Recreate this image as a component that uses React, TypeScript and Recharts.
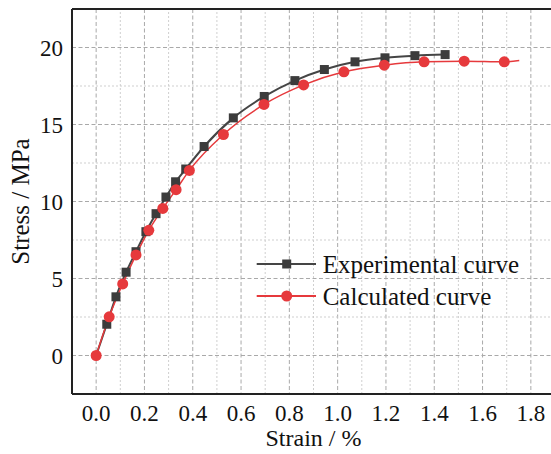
import { CartesianGrid, Legend, Line, LineChart, ReferenceLine, XAxis, YAxis } from 'recharts'

const expStrain = [0, 0.044, 0.082, 0.124, 0.165, 0.206, 0.248, 0.289, 0.329, 0.371, 0.447, 0.568, 0.696, 0.823, 0.945, 1.072, 1.196, 1.32, 1.445]
const expStress = [0, 2.03, 3.81, 5.41, 6.74, 8.04, 9.21, 10.29, 11.28, 12.11, 13.57, 15.43, 16.82, 17.85, 18.57, 19.07, 19.33, 19.47, 19.54]
const calcStrain = [0, 0.054, 0.11, 0.165, 0.218, 0.276, 0.331, 0.386, 0.527, 0.695, 0.859, 1.026, 1.193, 1.358, 1.524, 1.69, 1.752]
const calcStress = [0, 2.51, 4.65, 6.53, 8.13, 9.55, 10.77, 12.02, 14.35, 16.3, 17.57, 18.42, 18.85, 19.07, 19.11, 19.07, 19.15]

const xTicks = [0, 0.2, 0.4, 0.6, 0.8, 1.0, 1.2, 1.4, 1.6, 1.8]
const yTicks = [0, 5, 10, 15, 20]
const xMinor = [0.1, 0.3, 0.5, 0.7, 0.9, 1.1, 1.3, 1.5, 1.7]
const yMinor = [2.5, 7.5, 12.5, 17.5]
const seriesNames = ['Experimental curve', 'Calculated curve']

const expData = expStrain.map((x, i) => ({ x, y: expStress[i] }))
const calcData = calcStrain.map((x, i) => ({ x, y: calcStress[i] }))

const FONT = 'Liberation Serif'
const BLACK = '#454545'
const RED = '#e6393c'

function SerifText({ size, children, ...rest }: any) {
  return (
    <text fontFamily={FONT} fontSize={size} fill="#111" {...rest}>
      {children}
    </text>
  )
}

function XTick({ x, y, payload }: any) {
  return (
    <SerifText x={x} y={y} dy="0.71em" textAnchor="middle" size={23}>
      {payload.value.toFixed(1)}
    </SerifText>
  )
}

function YTick({ x, y, payload }: any) {
  return (
    <SerifText x={x} y={y} dy="0.355em" textAnchor="end" size={23}>
      {payload.value}
    </SerifText>
  )
}

// first experimental point sits under the red circle, no marker there
function Square(props: any) {
  const { cx, cy, index } = props
  if (index === 0 || cx == null) return <g key={`s${index}`} />
  return <rect key={`s${index}`} x={cx - 4.5} y={cy - 4.5} width={9} height={9} fill="#3c3c3c" />
}

// calculated curve runs a bit past its last marker
function Circle(props: any) {
  const { cx, cy, index } = props
  if (index === calcData.length - 1 || cx == null) return <g key={`c${index}`} />
  return <circle key={`c${index}`} cx={cx} cy={cy} r={5.5} fill={RED} />
}

function LegendBox({ payload }: any) {
  const items = seriesNames.map((n) => (payload || []).find((p: any) => p.value === n)).filter(Boolean)
  return (
    <svg width={290} height={70} style={{ display: 'block', overflow: 'visible' }}>
      {items.map((p: any, i: number) => {
        const y = 19 + i * 32
        return (
          <g key={p.value}>
            <line x1={6.7} x2={66} y1={y} y2={y} stroke={p.color} strokeWidth={1.8} />
            {p.value === seriesNames[0] ? (
              <rect x={32.2} y={y - 4.5} width={9} height={9} fill="#3c3c3c" />
            ) : (
              <circle cx={36.7} cy={y} r={5.5} fill={RED} />
            )}
            <SerifText x={72.7} y={y + 8.5} size={25}>
              {p.value}
            </SerifText>
          </g>
        )
      })}
    </svg>
  )
}

export default function App() {
  return (
    <div style={{ position: 'absolute', left: 0, top: 0, width: 551, height: 454, overflow: 'hidden', background: '#fff' }}>
      <LineChart width={555} height={454} margin={{ top: 9, right: 0, bottom: 0, left: 0 }}>
        <CartesianGrid stroke="#a9a9a9" strokeDasharray="4 2.5" strokeWidth={1} />
        {xMinor.map((v) => (
          <ReferenceLine key={`vx${v}`} x={v} stroke="#cfcfcf" strokeDasharray="2 2" />
        ))}
        {yMinor.map((v) => (
          <ReferenceLine key={`hy${v}`} y={v} stroke="#cfcfcf" strokeDasharray="2 2" />
        ))}
        <XAxis
          type="number"
          dataKey="x"
          domain={[-0.1, 1.9]}
          ticks={xTicks}
          allowDataOverflow
          height={60}
          tickLine={false}
          tickSize={6}
          tickMargin={5}
          tick={<XTick />}
          axisLine={{ stroke: '#222', strokeWidth: 2 }}
          label={({ viewBox }: any) => (
            <SerifText x={viewBox.x + viewBox.width / 2} y={viewBox.y + viewBox.height - 8} textAnchor="middle" size={24}>
              Strain / %
            </SerifText>
          )}
        />
        <YAxis
          type="number"
          dataKey="y"
          domain={[-2.5, 22.5]}
          ticks={yTicks}
          allowDataOverflow
          width={72}
          tickLine={false}
          tickSize={6}
          tickMargin={3}
          tick={<YTick />}
          axisLine={{ stroke: '#222', strokeWidth: 2 }}
          label={({ viewBox }: any) => {
            const cx = viewBox.x + 20.5
            const cy = viewBox.y + viewBox.height / 2
            return (
              <SerifText x={cx} y={cy} transform={`rotate(-90 ${cx} ${cy})`} textAnchor="middle" dy="0.355em" size={25}>
                Stress / MPa
              </SerifText>
            )
          }}
        />
        <ReferenceLine y={22.5} stroke="#222" strokeWidth={2} />
        <Legend
          verticalAlign="middle"
          align="center"
          layout="horizontal"
          content={<LegendBox />}
          wrapperStyle={{ left: 250, top: 245, width: 290, height: 70 }}
        />
        <Line
          data={expData}
          dataKey="y"
          name={seriesNames[0]}
          type="monotone"
          stroke={BLACK}
          strokeWidth={2}
          dot={<Square />}
          activeDot={false}
          isAnimationActive={false}
        />
        <Line
          data={calcData}
          dataKey="y"
          name={seriesNames[1]}
          type="monotone"
          stroke={RED}
          strokeWidth={1.5}
          dot={<Circle />}
          activeDot={false}
          isAnimationActive={false}
        />
      </LineChart>
    </div>
  )
}
